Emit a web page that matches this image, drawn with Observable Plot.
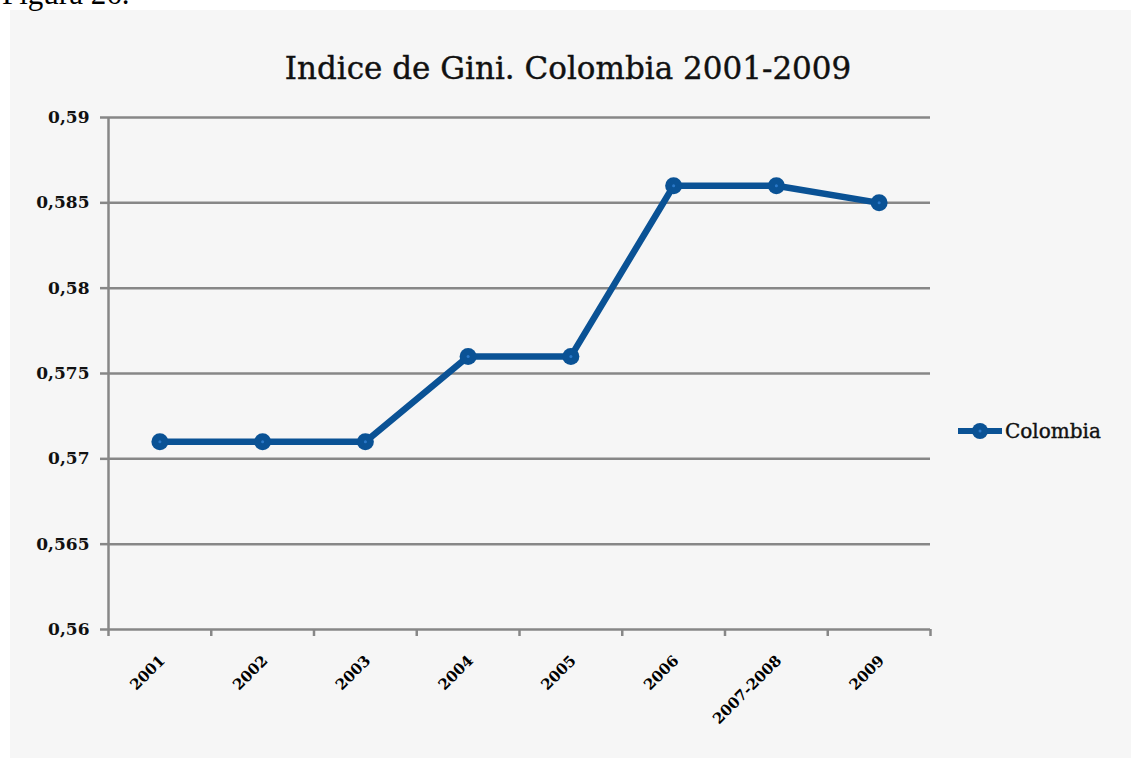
<!DOCTYPE html>
<html><head><meta charset="utf-8">
<script src="https://cdn.jsdelivr.net/npm/d3@7"></script>
<script src="https://cdn.jsdelivr.net/npm/@observablehq/plot@0.6"></script>
<style>
html,body{margin:0;padding:0;background:#fff;}
#wrap{position:relative;width:1131px;height:758px;overflow:hidden;}
#bg{position:absolute;left:10px;top:10px;width:1121px;height:748px;background:#f6f6f6;}
#fig{position:absolute;left:2px;top:-24px;font-family:"Liberation Serif",serif;font-size:31px;line-height:36px;color:#000;}
#title{position:absolute;left:0;width:1136px;top:50px;text-align:center;font-family:"DejaVu Serif",serif;font-size:31px;color:#111;-webkit-text-stroke:0.4px #111;}
#chart{position:absolute;left:0;top:0;}
#legend{position:absolute;left:956px;top:419px;font-family:"DejaVu Serif",serif;font-size:20px;color:#111;display:flex;align-items:center;-webkit-text-stroke:0.4px #111;}
#legend svg{margin-right:1px;}
</style></head>
<body>
<div id="wrap">
<div id="bg"></div>
<div id="fig">Figura 26.</div>
<div id="title">Indice de Gini. Colombia 2001-2009</div>
<div id="chart"></div>
<div id="legend"><svg width="48" height="24"><line x1="2" x2="46" y1="12" y2="12" stroke="#0a5295" stroke-width="6"/><circle cx="24" cy="12" r="8" fill="#0a5295"/><circle cx="24" cy="12" r="1.5" fill="#2a78c8"/></svg><span>Colombia</span></div>
</div>
<script>
const categories = ["2001","2002","2003","2004","2005","2006","2007-2008","2009"];
const gini = [0.571, 0.571, 0.571, 0.576, 0.576, 0.586, 0.586, 0.585];
const yTicks = [0.56, 0.565, 0.57, 0.575, 0.58, 0.585, 0.59];
const seriesName = "Colombia";

const data = categories.map((c, i) => ({cat: c, idx: i + 0.5, value: gini[i]}));
const blue = "#0a5295";
const grey = "#878787";
const fmt = d => String(+d.toFixed(3)).replace(".", ",");

const chart = Plot.plot({
  width: 1131,
  height: 758,
  marginLeft: 108,
  marginRight: 201,
  marginTop: 117,
  marginBottom: 129,
  style: {background: "transparent", fontFamily: "DejaVu Serif, serif"},
  x: {type: "linear", domain: [0, categories.length], axis: null},
  y: {domain: [0.56, 0.59], axis: null},
  marks: [
    Plot.gridY(yTicks, {stroke: grey, strokeOpacity: 1, strokeWidth: 2.5}),
    Plot.ruleX([0], {stroke: grey, strokeWidth: 2.5}),
    Plot.axisY({ticks: yTicks, tickFormat: fmt, tickSize: 8, tickPadding: 11, stroke: grey, strokeWidth: 2.5,
      label: null, fontSize: 17, fontWeight: "bold", fill: "#111"}),
    Plot.axisX({ticks: d3.range(0, categories.length + 1), tickFormat: () => "", tickSize: 7, stroke: grey, strokeWidth: 2.5, label: null}),
    Plot.text(data, {x: "idx", text: "cat", frameAnchor: "bottom", rotate: -45, textAnchor: "end",
      dx: 6, dy: 32, fontSize: 15, fontWeight: "bold", fill: "#000"}),
    Plot.line(data, {x: "idx", y: "value", stroke: blue, strokeWidth: 6.5, strokeLinejoin: "round"}),
    Plot.dot(data, {x: "idx", y: "value", r: 8.5, fill: blue, stroke: "none"}),
    Plot.dot(data, {x: "idx", y: "value", r: 1.5, fill: "#2a78c8"})
  ]
});
document.getElementById("chart").appendChild(chart);
</script>
</body></html>
